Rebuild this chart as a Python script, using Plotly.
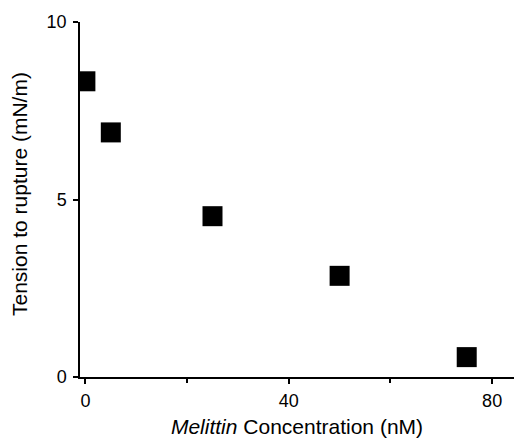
import plotly.graph_objects as go

concentration = [0, 5, 25, 50, 75]
tension = [8.33, 6.89, 4.53, 2.85, 0.56]

x_ticks = [0, 40, 80]
x_tick_labels = ["0", "40", "80"]
y_ticks = [0, 5, 10]
y_tick_labels = ["0", "5", "10"]

FONT = "Arial, Liberation Sans, Helvetica, sans-serif"

fig = go.Figure()
fig.add_trace(go.Scatter(
    x=concentration, y=tension, mode="markers",
    marker=dict(symbol="square", size=20, color="black", line=dict(width=0)),
    showlegend=False,
))

fig.update_layout(
    width=514, height=442,
    margin=dict(l=80, r=0, t=22, b=65),
    paper_bgcolor="white", plot_bgcolor="white",
    font=dict(family=FONT, color="black"),
    xaxis=dict(
        range=[-1.06, 84.3], showgrid=False, zeroline=False,
        showline=True, linecolor="black", linewidth=1.5,
        tickmode="array", tickvals=x_ticks, ticktext=x_tick_labels,
        ticks="outside", ticklen=5, tickwidth=1.5, tickcolor="black",
        tickfont=dict(size=18), ticklabelstandoff=2,
        minor=dict(tickvals=[20, 60], ticks="outside", ticklen=4, tickwidth=1.5, tickcolor="black"),
        title=dict(text="<i>Melittin</i> Concentration (nM)", font=dict(size=21), standoff=9),
    ),
    yaxis=dict(
        range=[0, 10], showgrid=False, zeroline=False,
        showline=True, linecolor="black", linewidth=1.5,
        tickmode="array", tickvals=y_ticks, ticktext=y_tick_labels,
        ticks="outside", ticklen=5, tickwidth=1.5, tickcolor="black",
        tickfont=dict(size=18), ticklabelstandoff=3,
    ),
    annotations=[dict(
        text="Tension to rupture (mN/m)", textangle=-90,
        xref="paper", yref="paper", x=(19 - 80) / 434, y=(377 - 194) / 355,
        xanchor="center", yanchor="middle", showarrow=False,
        font=dict(size=21),
    )],
)

fig.write_html("out.html")
